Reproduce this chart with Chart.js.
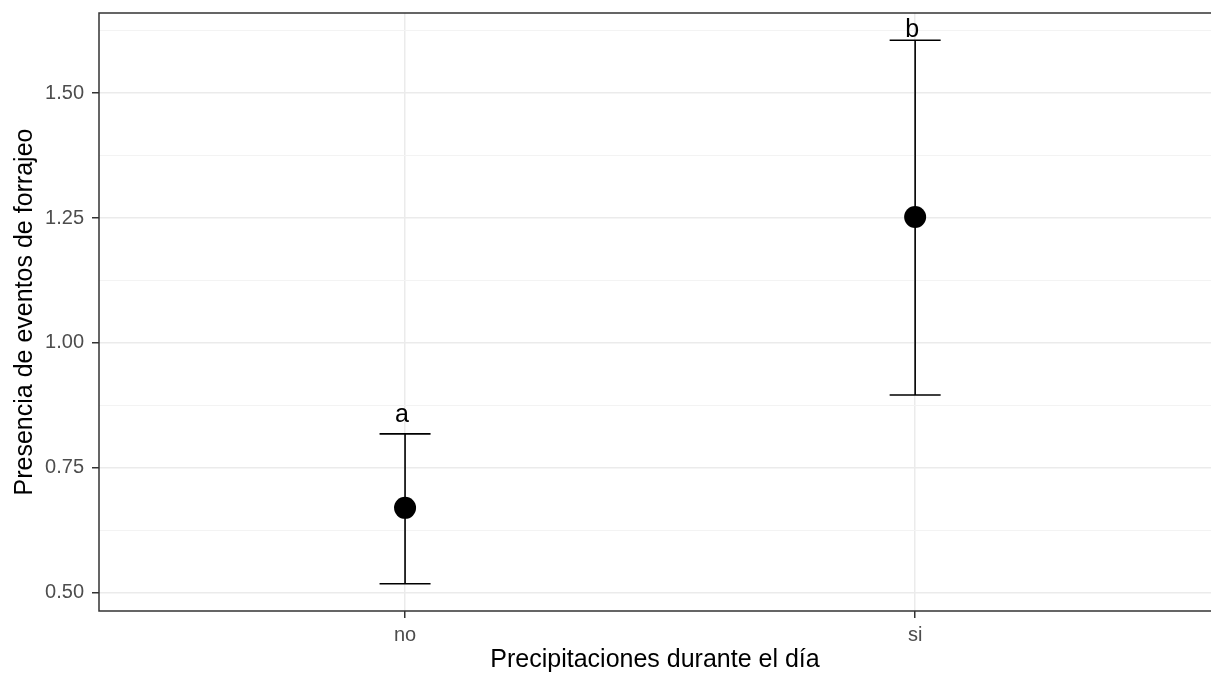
<!DOCTYPE html>
<html>
<head>
<meta charset="utf-8">
<script src="https://cdn.jsdelivr.net/npm/chart.js@4.4.1/dist/chart.umd.min.js"></script>
<style>
  body { margin: 0; background: #fff; }
  #wrap { width: 1211px; height: 676px; }
</style>
</head>
<body>
<div id="wrap"><canvas id="chart" width="1211" height="676"></canvas></div>
<script>
// valores
const categories = ['no', 'si'];
const means = [0.67, 1.252];
const lowerCI = [0.518, 0.896];
const upperCI = [0.818, 1.606];
const letters = ['a', 'b'];
const letterY = [0.842, 1.612];
const yMajorTicks = [0.50, 0.75, 1.00, 1.25, 1.50];
const yMinorTicks = [0.625, 0.875, 1.125, 1.375, 1.625];

const FONT = "'Liberation Sans', Arial, sans-serif";
const isMajor = v => yMajorTicks.some(m => Math.abs(m - v) < 1e-6);

const errorBars = {
    id: 'errorBars',
    beforeDatasetsDraw(chart) {
        const { ctx, scales: { x, y } } = chart;
        ctx.save();
        ctx.strokeStyle = '#000';
        ctx.lineWidth = 1.6;
        categories.forEach((c, i) => {
            const px = x.getPixelForValue(i + 1);
            const half = x.getPixelForValue(i + 1.05) - px;
            const top = y.getPixelForValue(upperCI[i]);
            const bot = y.getPixelForValue(lowerCI[i]);
            ctx.beginPath();
            ctx.moveTo(px, top); ctx.lineTo(px, bot);
            ctx.moveTo(px - half, top); ctx.lineTo(px + half, top);
            ctx.moveTo(px - half, bot); ctx.lineTo(px + half, bot);
            ctx.stroke();
        });
        ctx.restore();
    },
    afterDatasetsDraw(chart) {
        const { ctx, scales: { x, y } } = chart;
        ctx.save();
        ctx.fillStyle = '#000';
        ctx.font = '25px ' + FONT;
        ctx.textAlign = 'center';
        ctx.textBaseline = 'alphabetic';
        letters.forEach((l, i) => {
            ctx.fillText(l, x.getPixelForValue(i + 1) - 3, y.getPixelForValue(letterY[i]));
        });
        ctx.restore();
    },
    afterDraw(chart) {
        const { ctx, chartArea: a } = chart;
        ctx.save();
        ctx.strokeStyle = '#333333';
        ctx.lineWidth = 1.5;
        ctx.beginPath();
        ctx.moveTo(a.right + 3, a.top);
        ctx.lineTo(a.left, a.top);
        ctx.lineTo(a.left, a.bottom);
        ctx.lineTo(a.right + 3, a.bottom);
        ctx.stroke();
        ctx.restore();
    }
};

new Chart(document.getElementById('chart'), {
    type: 'scatter',
    data: {
        datasets: [{
            data: means.map((m, i) => ({ x: i + 1, y: m })),
            pointRadius: 11,
            pointHoverRadius: 11,
            pointBackgroundColor: '#000',
            pointBorderWidth: 0
        }]
    },
    options: {
        responsive: false,
        animation: false,
        layout: { autoPadding: false, padding: { top: 13, right: 0, left: 0, bottom: 0 } },
        plugins: { legend: { display: false }, tooltip: { enabled: false } },
        scales: {
            x: {
                type: 'linear',
                min: 0.4,
                max: 2.58,
                afterBuildTicks: s => { s.ticks = categories.map((c, i) => ({ value: i + 1 })); },
                afterFit: s => { s.height = 65; s.paddingLeft = 0; s.paddingRight = 0; },
                border: { display: false },
                grid: { color: '#EBEBEB', lineWidth: 1.5, tickLength: 7, tickColor: '#333333', tickWidth: 1.5 },
                ticks: {
                    autoSkip: false,
                    padding: 5,
                    color: '#4D4D4D',
                    font: { family: FONT, size: 20 },
                    callback: v => categories[Math.round(v) - 1]
                },
                title: {
                    display: true,
                    text: 'Precipitaciones durante el día',
                    color: '#000',
                    font: { family: FONT, size: 25 },
                    padding: { top: 0, bottom: 1 }
                }
            },
            y: {
                min: 0.4636,
                max: 1.6604,
                afterBuildTicks: s => {
                    s.ticks = yMajorTicks.concat(yMinorTicks).sort((a, b) => a - b).map(v => ({ value: v }));
                },
                afterFit: s => { s.width = 99; s.paddingTop = 0; s.paddingBottom = 0; },
                border: { display: false },
                grid: {
                    color: c => isMajor(c.tick.value) ? '#EBEBEB' : '#F3F3F3',
                    lineWidth: c => isMajor(c.tick.value) ? 1.5 : 1,
                    tickLength: 7,
                    tickWidth: 1.5,
                    tickColor: c => isMajor(c.tick.value) ? '#333333' : 'rgba(0,0,0,0)'
                },
                ticks: {
                    autoSkip: false,
                    padding: 8,
                    color: '#4D4D4D',
                    font: { family: FONT, size: 20 },
                    callback: v => isMajor(v) ? v.toFixed(2) : ''
                },
                title: {
                    display: true,
                    text: 'Presencia de eventos de forrajeo',
                    color: '#000',
                    font: { family: FONT, size: 25 },
                    padding: { top: 10, bottom: 0 }
                }
            }
        }
    },
    plugins: [errorBars]
});
</script>
</body>
</html>
